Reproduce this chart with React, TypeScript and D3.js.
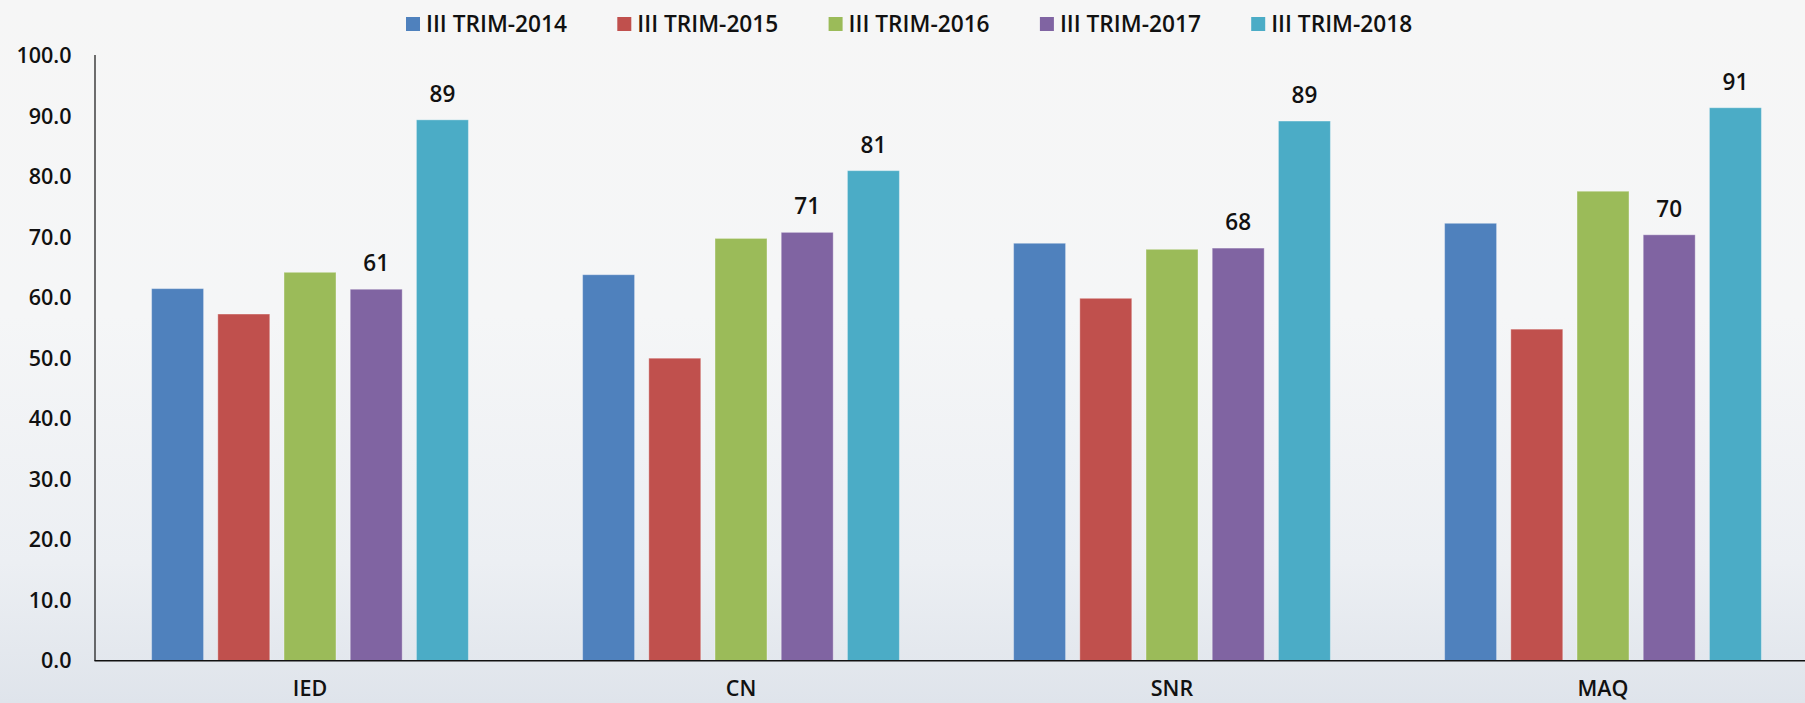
import React from "react";
import * as d3 from "d3";

const categories = ["IED", "CN", "SNR", "MAQ"];
const seriesNames = ["III TRIM-2014", "III TRIM-2015", "III TRIM-2016", "III TRIM-2017", "III TRIM-2018"];
const seriesColors = ["#4f81bd", "#c0504d", "#9bbb59", "#8064a2", "#4bacc6"];
const v2014 = [61.5, 63.8, 69.0, 72.3];
const v2015 = [57.3, 50.0, 59.9, 54.8];
const v2016 = [64.2, 69.8, 68.0, 77.6];
const v2017 = [61.4, 70.8, 68.2, 70.4];
const v2018 = [89.4, 81.0, 89.2, 91.4];
const labeledSeries = [false, false, false, true, true];
const yTicks = [0, 10, 20, 30, 40, 50, 60, 70, 80, 90, 100];

const W = 1805;
const H = 703;
const FONT = "'Open Sans', 'Noto Sans', sans-serif";

export default function App() {
  const values = [v2014, v2015, v2016, v2017, v2018];
  const y = d3.scaleLinear().domain([0, 100]).range([660.7, 55.7]);
  const x0 = d3.scaleBand<string>().domain(categories).range([94.5, 1818.5]).padding(0);
  const bw0 = x0.bandwidth();
  const outer = 57.1;
  const x1 = d3
    .scaleBand<string>()
    .domain(seriesNames)
    .range([outer, bw0 - outer])
    .paddingInner(0.215)
    .paddingOuter(0);

  return (
    <div style={{ position: "fixed", left: 0, top: 0, width: W, height: H }}>
      <svg width={W} height={H} style={{ display: "block" }}>
        <defs>
          <linearGradient id="bg" x1="0" y1="0" x2="0" y2="1">
            <stop offset="0" stopColor="#f6f6f6" />
            <stop offset="0.45" stopColor="#f5f6f7" />
            <stop offset="0.8" stopColor="#eceff3" />
            <stop offset="1" stopColor="#dfe4eb" />
          </linearGradient>
        </defs>
        <rect x={0} y={0} width={W} height={H} fill="url(#bg)" />

        {/* legend */}
        {seriesNames.map((s, i) => {
          const lx = 406 + i * 211.3;
          return (
            <g key={s}>
              <rect x={lx} y={17} width={14} height={14} fill={seriesColors[i]} />
              <text
                x={lx + 20}
                y={31.5}
                fontFamily={FONT}
                fontWeight={600}
                fontSize={23}
                fill="#111"
                textLength={141}
                lengthAdjust="spacingAndGlyphs"
              >
                {s}
              </text>
            </g>
          );
        })}

        {/* y tick labels */}
        {yTicks.map((t) => (
          <text
            key={t}
            x={71.5}
            y={y(t)}
            dy="0.35em"
            textAnchor="end"
            fontFamily={FONT}
            fontWeight={600}
            fontSize={21.5}
            fill="#111"
          >
            {d3.format(".1f")(t)}
          </text>
        ))}

        {/* bars */}
        {categories.map((c, ci) => (
          <g key={c} transform={`translate(${x0(c)},0)`}>
            {seriesNames.map((s, si) => {
              const v = values[si][ci];
              const bx = x1(s) as number;
              return (
                <rect
                  key={s}
                  x={bx}
                  y={y(v)}
                  width={x1.bandwidth()}
                  height={y(0) - y(v)}
                  fill={seriesColors[si]}
                  stroke="rgba(255,255,255,0.35)"
                  strokeWidth={1}
                />
              );
            })}
            {seriesNames.map((s, si) =>
              labeledSeries[si] ? (
                <text
                  key={"l" + s}
                  x={(x1(s) as number) + x1.bandwidth() / 2}
                  y={y(values[si][ci]) - 18}
                  textAnchor="middle"
                  fontFamily={FONT}
                  fontWeight={600}
                  fontSize={22.5}
                  fill="#111"
                >
                  {Math.round(values[si][ci])}
                </text>
              ) : null
            )}
            <text
              x={bw0 / 2}
              y={696}
              textAnchor="middle"
              fontFamily={FONT}
              fontWeight={600}
              fontSize={21.5}
              fill="#111"
            >
              {c}
            </text>
          </g>
        ))}

        {/* axes */}
        <line x1={95} x2={95} y1={55} y2={661} stroke="#111" strokeWidth={1.2} />
        <line x1={94.5} x2={W} y1={660.7} y2={660.7} stroke="#111" strokeWidth={1.6} />
      </svg>
    </div>
  );
}
